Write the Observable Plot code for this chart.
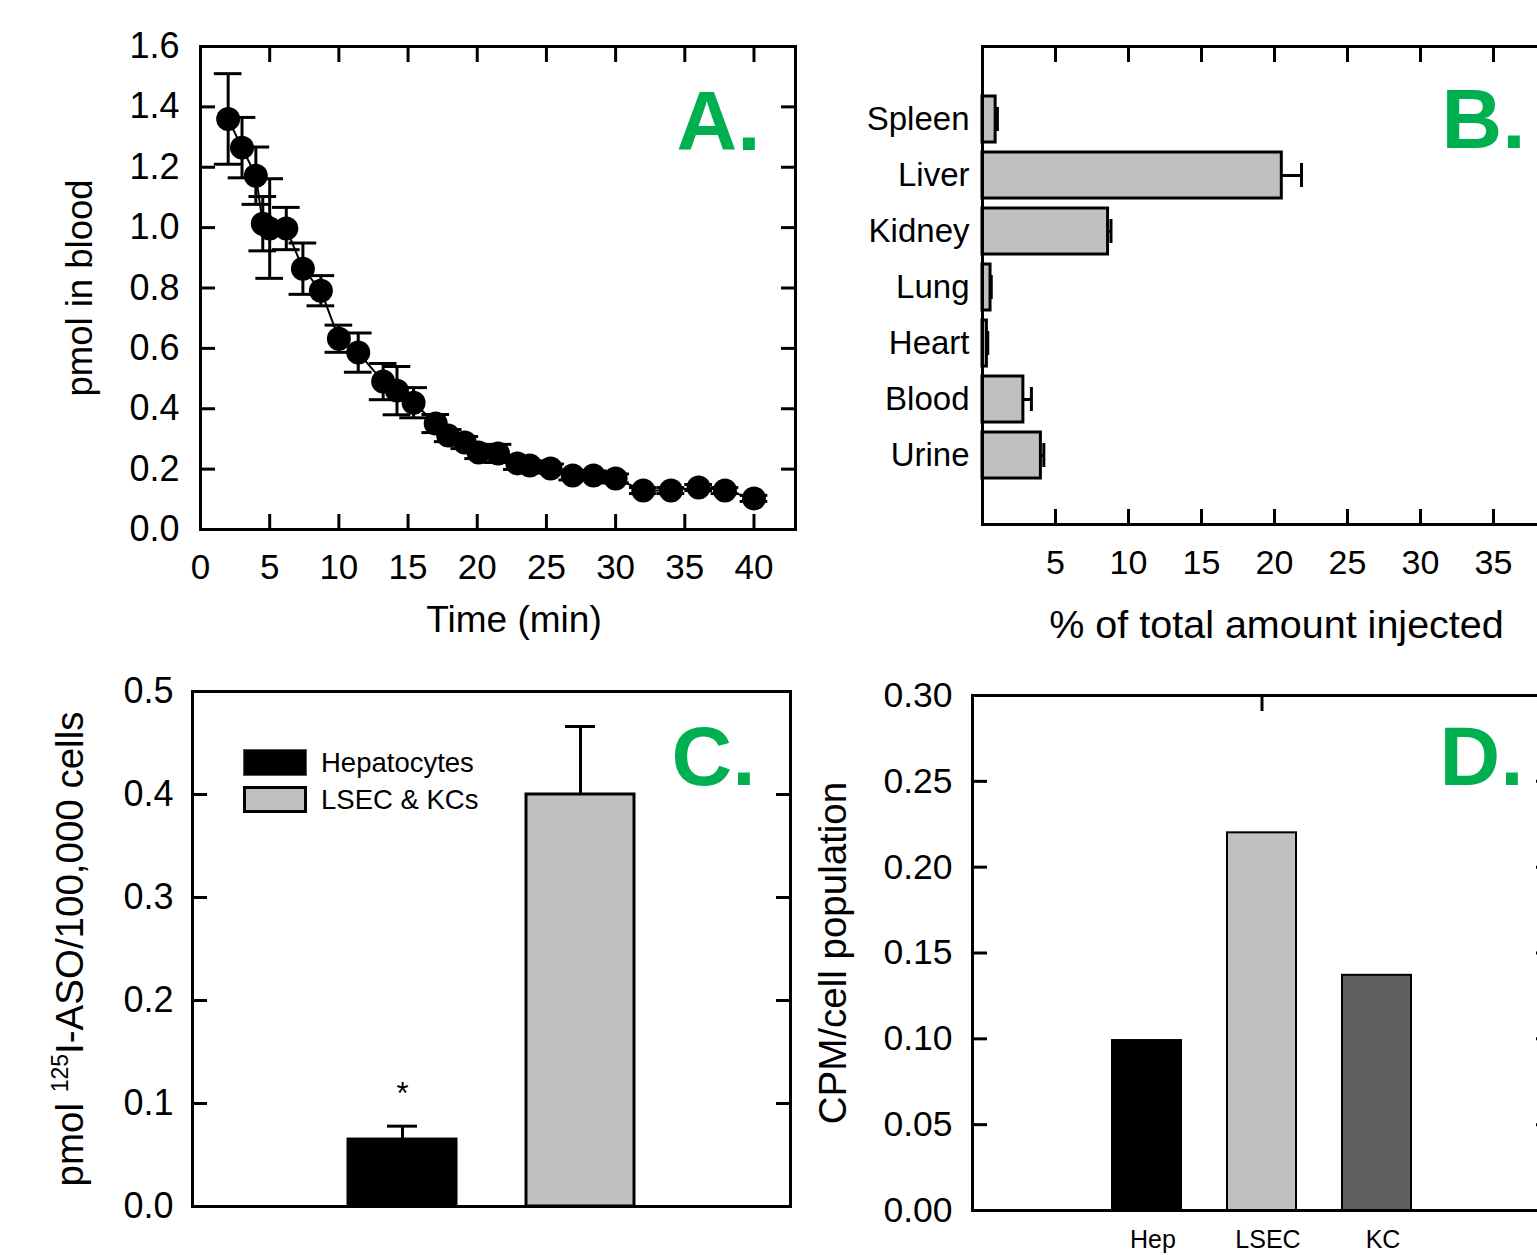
<!DOCTYPE html>
<html>
<head>
<meta charset="utf-8">
<script src="https://cdn.jsdelivr.net/npm/d3@7"></script>
<script src="https://cdn.jsdelivr.net/npm/@observablehq/plot@0.6"></script>
<style>
  html, body { margin: 0; padding: 0; background: #fff; }
  #page { position: relative; width: 1537px; height: 1255px; overflow: hidden; background: #fff;
          font-family: "Liberation Sans", Arial, sans-serif; color: #000; }
  #page svg { position: absolute; background: transparent; }
</style>
</head>
<body>
<div id="page"></div>
<script>
// ---------- Data ----------
// Panel A: blood clearance
const timeMin   = [2, 3, 4, 4.5, 5, 6.2, 7.4, 8.7, 10, 11.4, 13.2, 14.2, 15.4, 17, 17.9, 19.1, 20.1, 21.5, 22.9, 23.8, 25.3, 26.9, 28.4, 30, 32, 34, 36, 37.9, 40];
const bloodPmol = [1.36, 1.265, 1.172, 1.013, 0.997, 0.997, 0.864, 0.791, 0.632, 0.586, 0.49, 0.46, 0.42, 0.351, 0.311, 0.288, 0.255, 0.252, 0.219, 0.212, 0.202, 0.179, 0.179, 0.169, 0.129, 0.129, 0.139, 0.129, 0.103];
const bloodSem  = [0.15, 0.1, 0.095, 0.09, 0.165, 0.07, 0.085, 0.05, 0.045, 0.065, 0.06, 0.08, 0.05, 0.03, 0.02, 0.02, 0.02, 0.03, 0.02, 0.015, 0.015, 0.015, 0.015, 0.015, 0.01, 0.01, 0.01, 0.01, 0.01];
const timeTicks  = [0, 5, 10, 15, 20, 25, 30, 35, 40];
const bloodTicks = [0, 0.2, 0.4, 0.6, 0.8, 1.0, 1.2, 1.4, 1.6];

// Panel B: organ distribution
const organs    = ["Spleen", "Liver", "Kidney", "Lung", "Heart", "Blood", "Urine"];
const organPct  = [0.9, 20.5, 8.6, 0.55, 0.3, 2.8, 4.0];
const organErr  = [0.12, 1.35, 0.2, 0.05, 0.06, 0.55, 0.2];
const pctTicks  = [5, 10, 15, 20, 25, 30, 35, 40];
const pctLabels = [5, 10, 15, 20, 25, 30, 35];

// Panel C: uptake per cell type
const cellTypes  = ["Hepatocytes", "LSEC & KCs"];
const cellColors = ["#000000", "#C0C0C0"];
const asoPmol    = [0.065, 0.40];
const asoErr     = [0.013, 0.066];
const asoSig     = ["*", ""];
const asoTicks   = [0, 0.1, 0.2, 0.3, 0.4, 0.5];

// Panel D: CPM per cell population
const cellPops   = ["Hep", "LSEC", "KC"];
const popColors  = ["#000000", "#C0C0C0", "#606060"];
const cpmPerCell = [0.099, 0.22, 0.137];
const cpmTicks   = [0, 0.05, 0.10, 0.15, 0.20, 0.25, 0.30];

// ---------- Helpers ----------
const root = document.getElementById("page");
const bloodRows = timeMin.map((t, i) => ({t, v: bloodPmol[i], e: bloodSem[i]}));
const organRows = organs.map((o, i) => ({organ: o, v: organPct[i], e: organErr[i]}));
const cellRows  = cellTypes.map((c, i) => ({cell: c, v: asoPmol[i], e: asoErr[i], sig: asoSig[i]}));
const popRows   = cellPops.map((c, i) => ({pop: c, v: cpmPerCell[i]}));
const FONTF = '"Liberation Sans", Arial, sans-serif';
const GRN = "#00B050";
const none = () => "";

function place(svg, left, top) {
  svg.style.left = left + "px";
  svg.style.top = top + "px";
  root.appendChild(svg);
}

// ---------- Panel A ----------
const A = Plot.plot({
  width: 820, height: 660,
  marginLeft: 200, marginRight: 25, marginTop: 46, marginBottom: 131,
  style: {fontFamily: FONTF, background: "transparent", overflow: "visible"},
  x: {domain: [0, 43]},
  y: {domain: [0, 1.6]},
  marks: [
    Plot.axisX({ticks: timeTicks, tickSize: 0, tickPadding: 25, fontSize: 35, label: null}),
    Plot.axisX({ticks: timeTicks, tickSize: -15, strokeWidth: 3, tickFormat: none, label: null}),
    Plot.axisX({anchor: "top", ticks: timeTicks, tickSize: -15, strokeWidth: 3, tickFormat: none, label: null}),
    Plot.axisY({ticks: bloodTicks, tickFormat: d3.format(".1f"), tickSize: 0, tickPadding: 21, fontSize: 36, label: null}),
    Plot.axisY({ticks: bloodTicks, tickSize: -15, strokeWidth: 3, tickFormat: none, label: null}),
    Plot.axisY({anchor: "right", ticks: bloodTicks, tickSize: -15, strokeWidth: 3, tickFormat: none, label: null}),
    Plot.ruleX(bloodRows, {x: "t", y1: d => d.v - d.e, y2: d => d.v + d.e, strokeWidth: 3}),
    Plot.ruleY(bloodRows, {y: d => d.v + d.e, x1: d => d.t - 1, x2: d => d.t + 1, strokeWidth: 3}),
    Plot.ruleY(bloodRows, {y: d => d.v - d.e, x1: d => d.t - 1, x2: d => d.t + 1, strokeWidth: 3}),
    Plot.line(bloodRows, {x: "t", y: "v", stroke: "black", strokeWidth: 2}),
    Plot.dot(bloodRows, {x: "t", y: "v", r: 12, fill: "black", stroke: "none"}),
    Plot.frame({stroke: "black", strokeWidth: 3}),
    Plot.text(["Time (min)"], {text: d => d, frameAnchor: "bottom", dy: 76, dx: 16, textAnchor: "middle", lineAnchor: "top", fontSize: 37}),
    Plot.text(["pmol in blood"], {text: d => d, frameAnchor: "left", dx: -120, rotate: -90, textAnchor: "middle", lineAnchor: "middle", fontSize: 36.5}),
    Plot.text(["A."], {text: d => d, frameAnchor: "top-right", dx: -35, dy: 44, textAnchor: "end", lineAnchor: "top", fontSize: 84, fontWeight: "bold", fill: GRN})
  ]
});
place(A, 0, 0);

// ---------- Panel B ----------
const B = Plot.plot({
  width: 800, height: 660,
  marginLeft: 162, marginRight: 54, marginTop: 46, marginBottom: 136,
  style: {fontFamily: FONTF, background: "transparent", overflow: "visible"},
  x: {domain: [0, 40]},
  y: {domain: organs, paddingInner: 0.18, paddingOuter: 0.843, align: 0.52},
  marks: [
    Plot.barX(organRows, {x: "v", y: "organ", fill: "#C0C0C0", stroke: "black", strokeWidth: 3}),
    Plot.ruleY(organRows, {y: "organ", x1: "v", x2: d => d.v + d.e, strokeWidth: 3}),
    Plot.tickX(organRows, {x: d => d.v + d.e, y: "organ", strokeWidth: 3, insetTop: 11, insetBottom: 11}),
    Plot.axisX({ticks: pctLabels, tickSize: 0, tickPadding: 25, fontSize: 34, label: null}),
    Plot.axisX({ticks: pctTicks, tickSize: -15, strokeWidth: 3, tickFormat: none, label: null}),
    Plot.axisX({anchor: "top", ticks: pctTicks, tickSize: -15, strokeWidth: 3, tickFormat: none, label: null}),
    Plot.axisY({tickSize: 0, tickPadding: 13, fontSize: 33, label: null}),
    Plot.frame({stroke: "black", strokeWidth: 3}),
    Plot.text(["% of total amount injected"], {text: d => d, frameAnchor: "bottom", dy: 85, dx: 2, textAnchor: "middle", lineAnchor: "top", fontSize: 39.5}),
    Plot.text(["B."], {text: d => d, frameAnchor: "top-right", dx: -41, dy: 42, textAnchor: "end", lineAnchor: "top", fontSize: 84, fontWeight: "bold", fill: GRN})
  ]
});
place(B, 820, 0);

// ---------- Panel C ----------
const asoLabel = "pmol 125I-ASO/100,000 cells";
const C = Plot.plot({
  width: 820, height: 595,
  marginLeft: 192, marginRight: 30, marginTop: 31, marginBottom: 49,
  style: {fontFamily: FONTF, background: "transparent", overflow: "visible"},
  x: {domain: cellTypes, paddingInner: 0.391, paddingOuter: 0.866, axis: null},
  y: {domain: [0, 0.5]},
  color: {domain: cellTypes, range: cellColors},
  marks: [
    Plot.ruleX(cellRows, {x: "cell", y1: "v", y2: d => d.v + d.e, strokeWidth: 3}),
    Plot.tickY(cellRows, {x: "cell", y: d => d.v + d.e, strokeWidth: 3, insetLeft: 39, insetRight: 39}),
    Plot.barY(cellRows, {x: "cell", y: "v", fill: "cell", stroke: "black", strokeWidth: 3}),
    Plot.text(cellRows, {x: "cell", y: d => d.v + d.e, text: "sig", dy: -22, lineAnchor: "bottom", fontSize: 31}),
    Plot.axisY({ticks: asoTicks, tickFormat: d3.format(".1f"), tickSize: 0, tickPadding: 19, fontSize: 36, label: null}),
    Plot.axisY({ticks: asoTicks, tickSize: -15, strokeWidth: 3, tickFormat: none, label: null}),
    Plot.axisY({anchor: "right", ticks: asoTicks, tickSize: -15, strokeWidth: 3, tickFormat: none, label: null}),
    Plot.frame({stroke: "black", strokeWidth: 3}),
    Plot.text([asoLabel], {text: d => d, frameAnchor: "left", dx: -122, rotate: -90, textAnchor: "middle", lineAnchor: "middle", fontSize: 38.5}),
    Plot.text(["C."], {text: d => d, frameAnchor: "top-right", dx: -35, dy: 34, textAnchor: "end", lineAnchor: "top", fontSize: 84, fontWeight: "bold", fill: GRN})
  ]
});
// superscript for the isotope number
d3.select(C).selectAll("text").filter(function() { return this.textContent === asoLabel; }).each(function() {
  const t = d3.select(this);
  t.text(null);
  t.append("tspan").text("pmol ");
  t.append("tspan").attr("dy", -15).attr("font-size", 23).text("125");
  t.append("tspan").attr("dy", 15).text("I-ASO/100,000 cells");
});
place(C, 0, 660);

// legend for panel C
const legend = document.createElement("div");
legend.style.cssText = "position:absolute;left:243px;top:749px;font-family:'Liberation Sans',Arial,sans-serif;font-size:27.5px;line-height:27px;";
cellTypes.forEach((c, i) => {
  const row = document.createElement("div");
  row.style.cssText = "display:flex;align-items:center;height:27px;margin-bottom:10px;white-space:nowrap;";
  const sw = document.createElement("span");
  sw.style.cssText = "display:inline-block;box-sizing:border-box;width:64px;height:27px;margin-right:14px;background:" +
    cellColors[i] + ";border:" + (i ? "3px solid #000" : "1px solid #555") + ";";
  const lab = document.createElement("span");
  lab.textContent = c;
  row.appendChild(sw);
  row.appendChild(lab);
  legend.appendChild(row);
});
root.appendChild(legend);

// ---------- Panel D ----------
const D = Plot.plot({
  width: 800, height: 595,
  marginLeft: 152, marginRight: 70, marginTop: 35, marginBottom: 45,
  style: {fontFamily: FONTF, background: "transparent", overflow: "visible"},
  x: {domain: cellPops, paddingInner: 0.403, paddingOuter: 1.2},
  y: {domain: [0, 0.30]},
  color: {domain: cellPops, range: popColors},
  marks: [
    Plot.barY(popRows, {x: "pop", y: "v", fill: "pop", stroke: "black", strokeWidth: 2}),
    Plot.axisX({tickSize: 0, tickPadding: 20, fontSize: 25, dx: 6, label: null}),
    Plot.axisX({anchor: "top", ticks: ["LSEC"], tickSize: -15, strokeWidth: 3, tickFormat: none, label: null}),
    Plot.axisY({ticks: cpmTicks, tickFormat: d3.format(".2f"), tickSize: 0, tickPadding: 20, fontSize: 35.5, label: null}),
    Plot.axisY({ticks: cpmTicks, tickSize: -15, strokeWidth: 3, tickFormat: none, label: null}),
    Plot.axisY({anchor: "right", ticks: cpmTicks, tickSize: -15, strokeWidth: 3, tickFormat: none, label: null}),
    Plot.frame({stroke: "black", strokeWidth: 3}),
    Plot.text(["CPM/cell population"], {text: d => d, frameAnchor: "left", dx: -139, rotate: -90, textAnchor: "middle", lineAnchor: "middle", fontSize: 38.5}),
    Plot.text(["D."], {text: d => d, frameAnchor: "top-right", dx: -27, dy: 30, textAnchor: "end", lineAnchor: "top", fontSize: 84, fontWeight: "bold", fill: GRN})
  ]
});
place(D, 820, 660);
</script>
</body>
</html>
